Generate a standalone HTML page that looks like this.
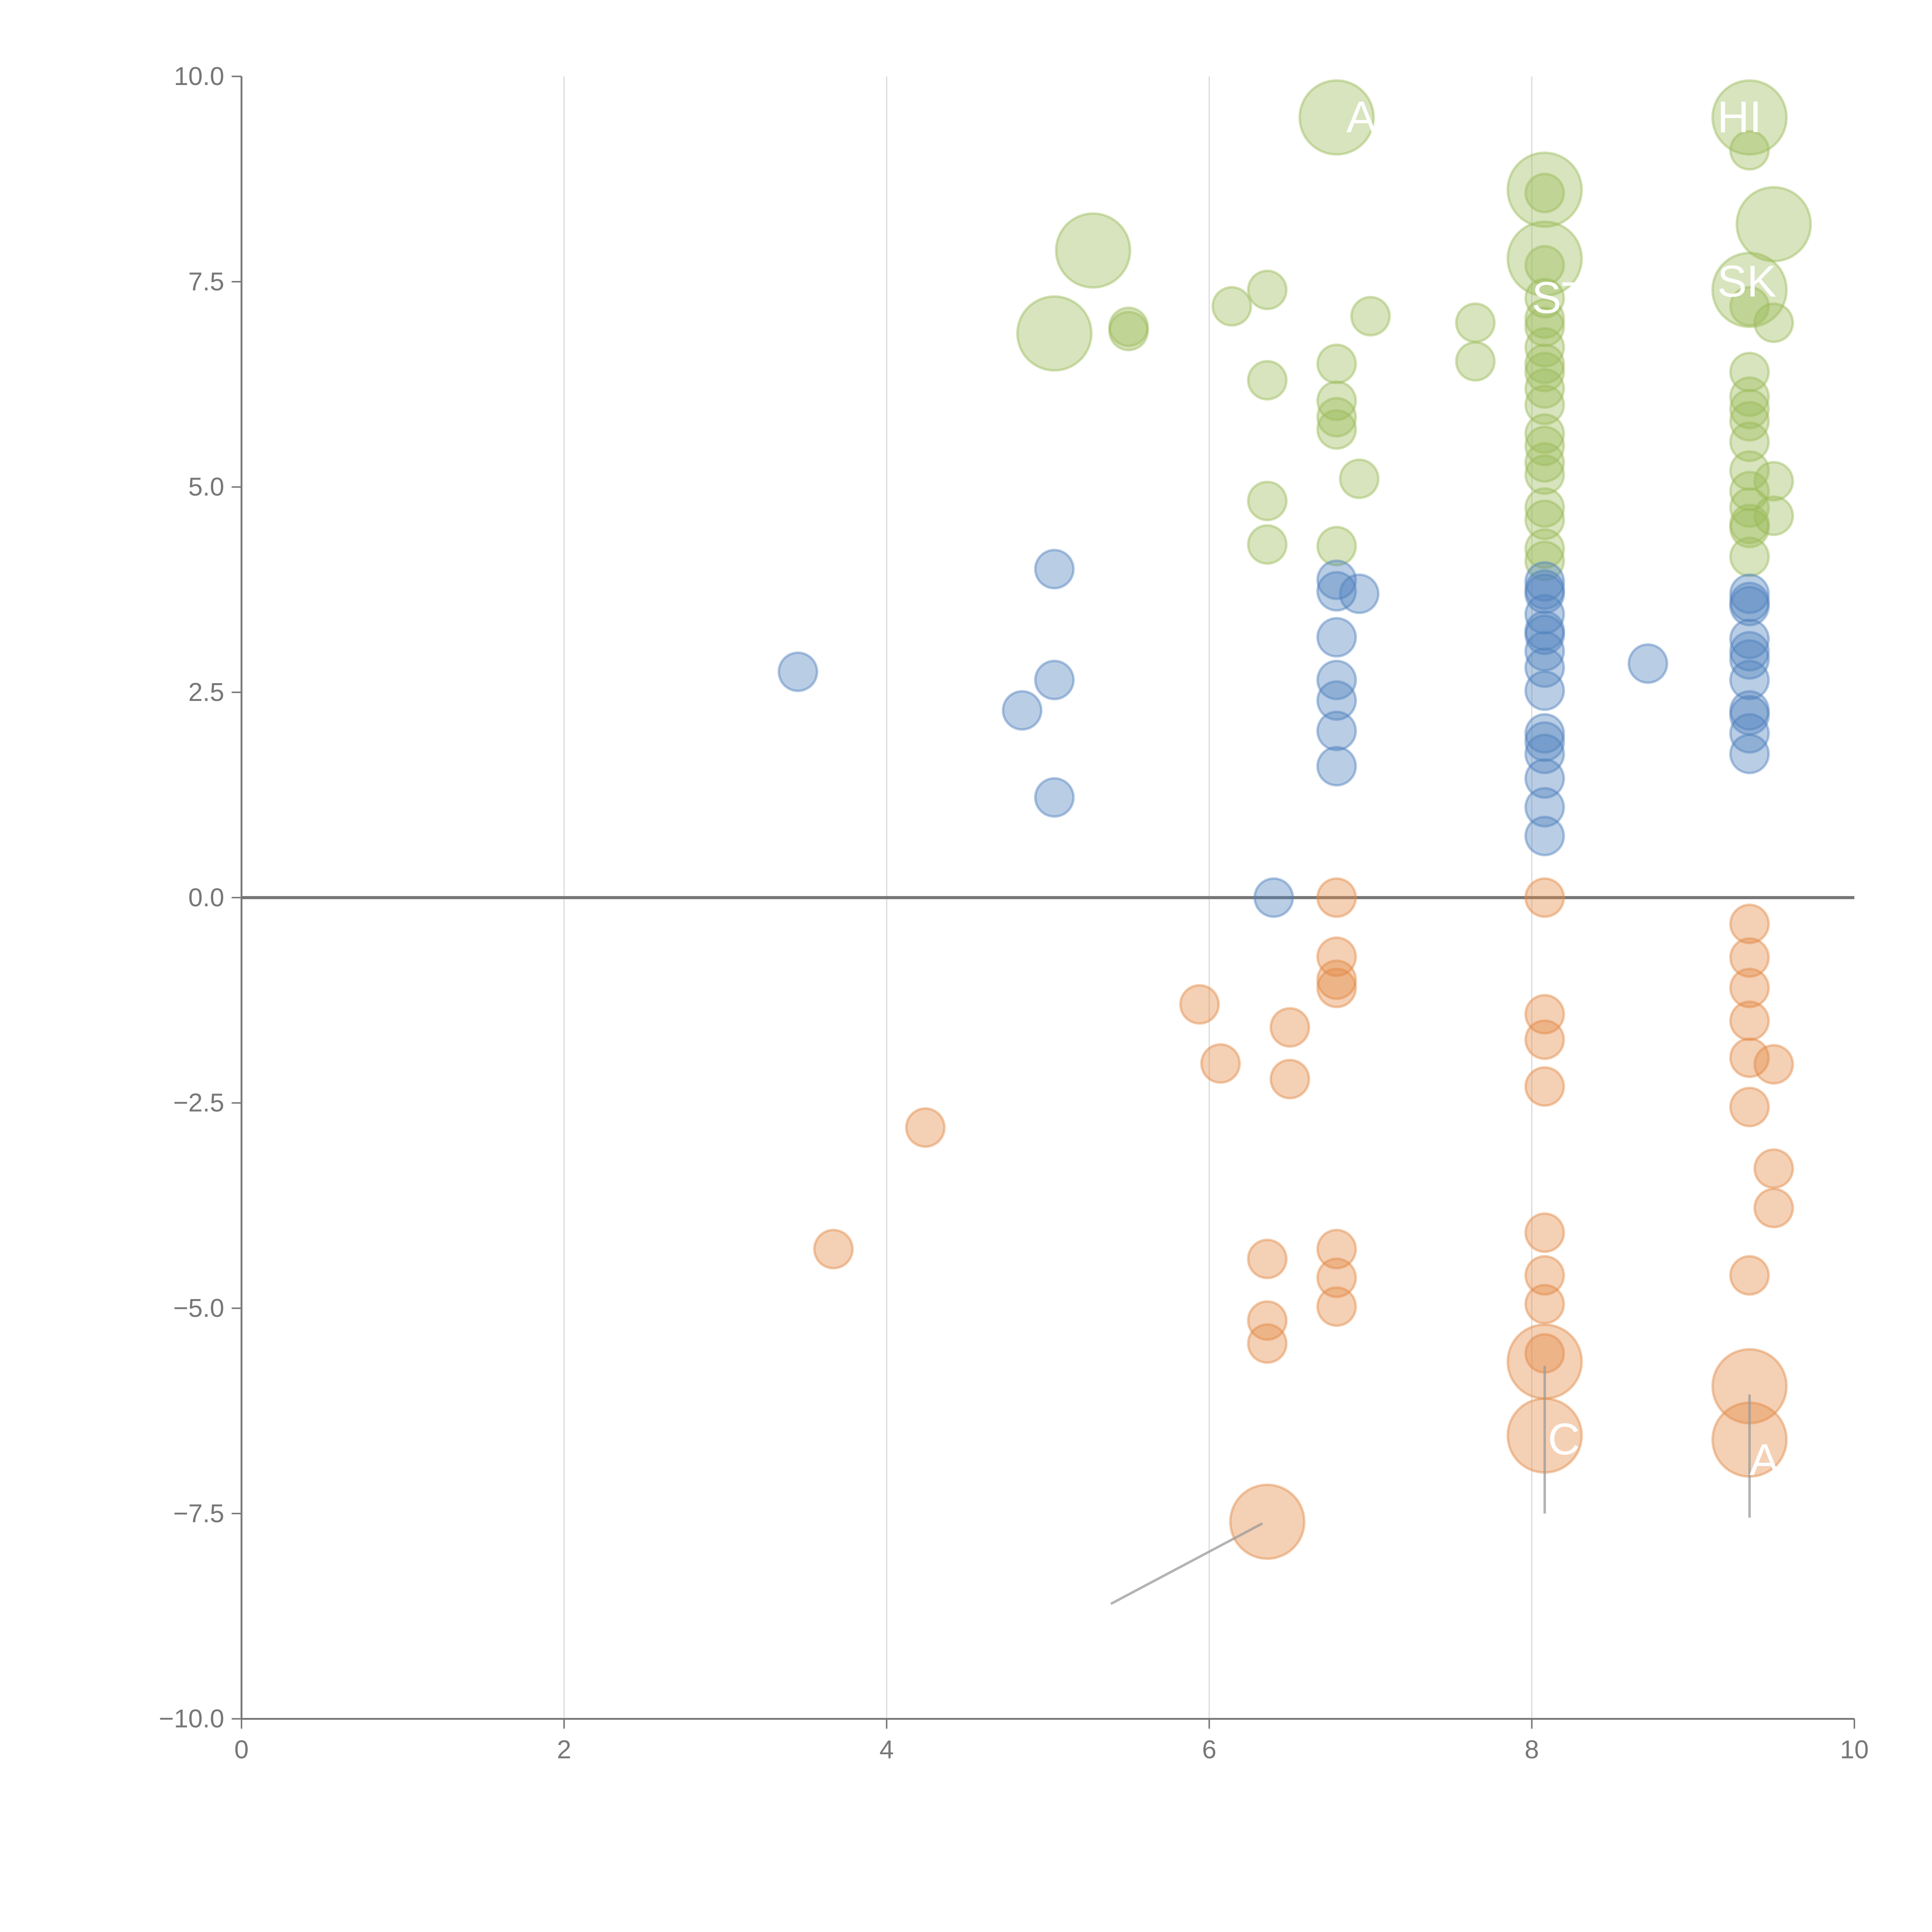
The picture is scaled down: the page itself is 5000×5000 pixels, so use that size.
<!DOCTYPE html>
<html><head><meta charset="utf-8"><style>
html,body{margin:0;padding:0;background:#fff;}
svg{display:block;}
</style></head><body>
<svg id="chart" width="5000" height="5000" viewBox="0 0 1568 1568" xmlns="http://www.w3.org/2000/svg" font-family="'Liberation Sans', sans-serif">
<g id="grid"></g>
<g id="axes"></g>
<g id="marks"></g>
<g id="labels"></g>
</svg>
<script>
const xTicks = [0, 2, 4, 6, 8, 10];
const yTicks = [-10, -7.5, -5, -2.5, 0, 2.5, 5, 7.5, 10];
const yTickLabels = ["\u221210.0","\u22127.5","\u22125.0","\u22122.5","0.0","2.5","5.0","7.5","10.0"];
// [x, y, large?]
const greenSeries = [[5.04,6.87,1],[5.28,7.88,1],[5.5,6.95,0],[5.5,6.9,0],[6.14,7.2,0],[6.36,7.4,0],[6.36,6.3,0],[6.36,4.83,0],[6.36,4.3,0],[6.79,9.5,1],[6.79,6.5,0],[6.79,6.05,0],[6.79,5.85,0],[6.79,5.7,0],[6.79,4.28,0],[6.93,5.1,0],[7.0,7.08,0],[7.65,7.0,0],[7.65,6.53,0],
[8.08,8.62,1],[8.08,8.58,0],[8.08,7.78,1],[8.08,7.7,0],[8.08,7.3,0],[8.08,7.05,0],[8.08,6.95,0],[8.08,6.7,0],[8.08,6.5,0],[8.08,6.4,0],[8.08,6.2,0],[8.08,6.0,0],[8.08,5.65,0],[8.08,5.5,0],[8.08,5.3,0],[8.08,5.15,0],[8.08,4.75,0],[8.08,4.6,0],[8.08,4.25,0],[8.08,4.1,0],
[9.35,9.5,1],[9.35,9.1,0],[9.35,7.4,1],[9.35,7.2,0],[9.35,6.4,0],[9.35,6.1,0],[9.35,5.95,0],[9.35,5.8,0],[9.35,5.55,0],[9.35,5.2,0],[9.35,4.95,0],[9.35,4.75,0],[9.35,4.55,0],[9.35,4.5,0],[9.35,4.15,0],
[9.5,8.2,1],[9.5,7.0,0],[9.5,5.07,0],[9.5,4.65,0]];
const blueSeries = [[3.45,2.75,0],[4.84,2.28,0],[5.04,4.0,0],[5.04,2.65,0],[5.04,1.22,0],[6.4,0.0,0],
[6.79,3.87,0],[6.79,3.73,0],[6.79,3.17,0],[6.79,2.65,0],[6.79,2.4,0],[6.79,2.03,0],[6.79,1.6,0],[6.93,3.7,0],
[8.08,3.85,0],[8.08,3.75,0],[8.08,3.7,0],[8.08,3.45,0],[8.08,3.25,0],[8.08,3.2,0],[8.08,3.0,0],[8.08,2.8,0],[8.08,2.52,0],[8.08,2.0,0],[8.08,1.9,0],[8.08,1.75,0],[8.08,1.45,0],[8.08,1.1,0],[8.08,0.75,0],
[8.72,2.85,0],[9.35,3.7,0],[9.35,3.6,0],[9.35,3.55,0],[9.35,3.15,0],[9.35,3.0,0],[9.35,2.9,0],[9.35,2.65,0],[9.35,2.28,0],[9.35,2.22,0],[9.35,2.0,0],[9.35,1.75,0]];
const orangeSeries = [[3.67,-4.28,0],[4.24,-2.8,0],[5.94,-1.3,0],[6.07,-2.02,0],[6.36,-4.4,0],[6.36,-5.15,0],[6.36,-5.43,0],[6.36,-7.6,1],[6.5,-1.58,0],[6.5,-2.21,0],
[6.79,0,0],[6.79,-0.72,0],[6.79,-1.0,0],[6.79,-1.1,0],[6.79,-4.28,0],[6.79,-4.63,0],[6.79,-4.98,0],
[8.08,0,0],[8.08,-1.42,0],[8.08,-1.73,0],[8.08,-2.3,0],[8.08,-4.08,0],[8.08,-4.6,0],[8.08,-4.95,0],[8.08,-5.55,0],[8.08,-5.65,1],[8.08,-6.55,1],
[9.35,-0.32,0],[9.35,-0.73,0],[9.35,-1.1,0],[9.35,-1.5,0],[9.35,-1.95,0],[9.35,-2.55,0],[9.35,-4.6,0],[9.35,-5.95,1],[9.35,-6.6,1],
[9.5,-2.03,0],[9.5,-3.3,0],[9.5,-3.78,0]];
// leader lines [x1,y1,x2,y2] in data units
const leaders = [[5.39,-8.6,6.33,-7.62],[8.08,-5.7,8.08,-7.5],[9.35,-6.05,9.35,-7.55]];
const labelTexts = ["A","HI","ST","SK","R","C","A"];
const labelPos = [[6.85,9.5],[9.15,9.5],[8.0,7.3],[9.15,7.5],[6.05,6.3],[8.1,-6.6],[9.35,-6.85]];

const NS="http://www.w3.org/2000/svg";
const X0=196,X1=1505,Y0=1395,Y1=62;
const sx=v=>X0+(v-0)/10*(X1-X0);
const sy=v=>Y0-(v+10)/20*(Y0-Y1);
function mk(parent,tag,attrs){const e=document.createElementNS(NS,tag);for(const k in attrs)e.setAttribute(k,attrs[k]);parent.appendChild(e);return e;}
const grid=document.getElementById('grid'),axes=document.getElementById('axes'),marks=document.getElementById('marks'),labels=document.getElementById('labels');
xTicks.forEach(t=>{
  if(t>0&&t<10){const l=mk(grid,'line',{x1:sx(t),x2:sx(t),y1:Y1,y2:Y0,stroke:'#dcdcdc','stroke-width':1});
  
  }
  const tk=mk(axes,'line',{x1:sx(t),x2:sx(t),y1:Y0,y2:Y0+8,stroke:'#777','stroke-width':1.2});
  
  
  const tx=mk(axes,'text',{x:sx(t),y:Y0+32,'text-anchor':'middle','font-size':21,fill:'#777'});
  tx.textContent=t;
  
  
});
yTicks.forEach((t,i)=>{
  const tk=mk(axes,'line',{x1:X0-8,x2:X0,y1:sy(t),y2:sy(t),stroke:'#777','stroke-width':1.2});
  
  
  const tx=mk(axes,'text',{x:X0-14,y:sy(t)+7,'text-anchor':'end','font-size':21,fill:'#777'});
  tx.textContent=yTickLabels[i];
  
  
});
const ya=mk(axes,'line',{x1:X0,x2:X0,y1:Y1,y2:Y0,stroke:'#777','stroke-width':1.5});


const xa=mk(axes,'line',{x1:X0,x2:X1,y1:Y0,y2:Y0,stroke:'#777','stroke-width':1.5});


const zl=mk(axes,'line',{x1:X0,x2:X1,y1:sy(0),y2:sy(0),stroke:'#777','stroke-width':2.5});


function drawSeries(data,fill,stroke,name){
  data.forEach(d=>{
    const c=mk(marks,'circle',{cx:sx(d[0]),cy:sy(d[1]),r:d[2]?30:15.5,fill:fill,'fill-opacity':0.4,stroke:stroke,'stroke-opacity':0.45,'stroke-width':2});
    
    
  });
}
drawSeries(greenSeries,'#9bbb59','#9bbb59','green-bubble');
drawSeries(blueSeries,'#4f81bd','#4f81bd','blue-bubble');
drawSeries(orangeSeries,'#e38a45','#e38a45','orange-bubble');
leaders.forEach(l=>{
  const e=mk(labels,'line',{x1:sx(l[0]),y1:sy(l[1]),x2:sx(l[2]),y2:sy(l[3]),stroke:'#999','stroke-opacity':0.75,'stroke-width':2});
  
  
});
labelTexts.forEach((s,i)=>{
  const t=mk(labels,'text',{x:sx(labelPos[i][0]),y:sy(labelPos[i][1])+12,'font-size':36,fill:'#fff'});
  t.textContent=s;
  
  
});
</script>
</body></html>
